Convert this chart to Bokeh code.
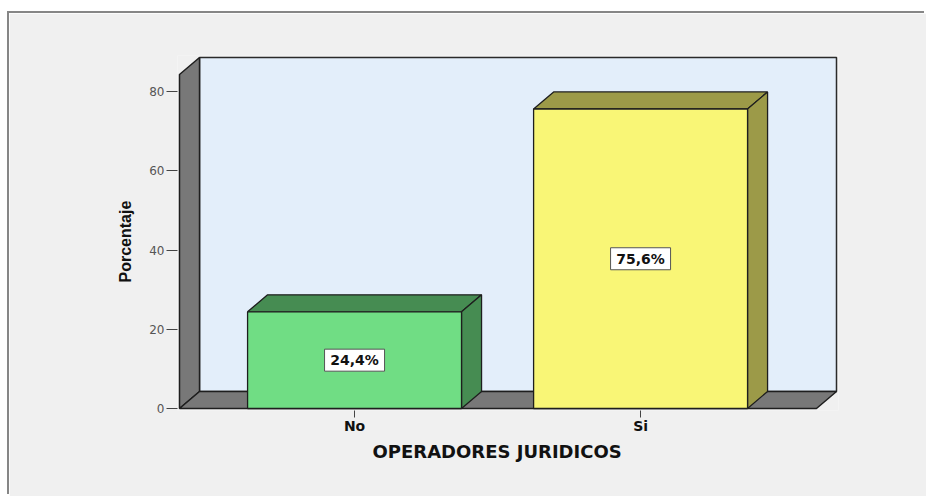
import math
from bokeh.plotting import figure
from bokeh.models import Range1d, FixedTicker, Title, ColumnDataSource
from bokeh.core.properties import value
from bokeh.embed import file_html
from bokeh.resources import INLINE

# ---- data ----
categories = ["No", "Si"]
percentages = [24.4, 75.6]
value_labels = ["24,4%", "75,6%"]
y_ticks = [0, 20, 40, 60, 80]
front_colors = ["#70dd84", "#f9f676"]
side_colors = ["#468c52", "#9c9a48"]
x_title = "OPERADORES JURIDICOS"
y_title = "Porcentaje"

# ---- geometry (style constants, data units) ----
xpos = list(range(len(categories)))
HW = 0.374        # half bar width
DX = 0.07         # depth offset x
DY = 4.3          # depth offset y
X_LEFT = -0.612   # front plane left
X_RIGHT = 1.615   # front plane right
Y_TOP = 84.3      # front plane top
PADX = 0.007
PADY = 0.505

EDGE = "#1e1e1e"
WALL = "#787878"

p = figure(width=917, height=483,
           x_range=Range1d(X_LEFT - PADX, X_RIGHT + DX + PADX),
           y_range=Range1d(-PADY, Y_TOP + DY + PADY),
           output_backend="svg", toolbar_location=None,
           min_border_left=168, min_border_top=42,
           min_border_right=88, min_border_bottom=86,
           background_fill_color="#f0f0f0", border_fill_color="#f0f0f0",
           outline_line_color=None,
           styles={"margin-left": "9px", "margin-top": "13px",
                   "box-shadow": "-2px -2px 0px 0px #868686"})
p.grid.visible = False

# back wall
p.quad(left=[X_LEFT + DX], right=[X_RIGHT + DX], bottom=[DY], top=[Y_TOP + DY],
       fill_color="#e3eefa", line_color="#2a2a2a", line_width=1.5)

# left side wall and floor
walls = ColumnDataSource(dict(
    xs=[[X_LEFT, X_LEFT, X_LEFT + DX, X_LEFT + DX],
        [X_LEFT, X_RIGHT, X_RIGHT + DX, X_LEFT + DX]],
    ys=[[0, Y_TOP, Y_TOP + DY, DY],
        [0, 0, DY, DY]],
))
p.patches("xs", "ys", source=walls, fill_color=WALL, line_color=EDGE, line_width=1.5)

# bars
tops_x, tops_y, sides_x, sides_y = [], [], [], []
for c, v in zip(xpos, percentages):
    tops_x.append([c - HW, c + HW, c + HW + DX, c - HW + DX])
    tops_y.append([v, v, v + DY, v + DY])
    sides_x.append([c + HW, c + HW + DX, c + HW + DX, c + HW])
    sides_y.append([0, DY, v + DY, v])

p.patches(xs=tops_x, ys=tops_y, fill_color=side_colors, line_color=EDGE, line_width=1.3)
p.patches(xs=sides_x, ys=sides_y, fill_color=side_colors, line_color=EDGE, line_width=1.3)
p.quad(left=[c - HW for c in xpos], right=[c + HW for c in xpos],
       bottom=[0] * len(xpos), top=percentages,
       fill_color=front_colors, line_color=EDGE, line_width=1.3)

# value labels
mid = [v / 2 for v in percentages]
p.rect(x=xpos, y=mid, width=60, height=22, width_units="screen", height_units="screen",
       fill_color="white", line_color="#555555", line_width=1)
p.text(x=xpos, y=mid, text=value_labels, text_align="center", text_baseline="middle",
       text_font=value("DejaVu Sans"), text_font_style="bold",
       text_font_size=value("14px"), text_color="#111111")

# axes
p.yaxis.ticker = FixedTicker(ticks=y_ticks)
p.yaxis.axis_line_color = None
p.yaxis.major_tick_out = 11
p.yaxis.major_tick_in = 0
p.yaxis.minor_tick_line_color = None
p.yaxis.major_tick_line_color = "#444444"
p.yaxis.major_label_text_font = "DejaVu Sans"
p.yaxis.major_label_text_font_size = "12px"
p.yaxis.major_label_text_color = "#555555"
p.yaxis.major_label_standoff = 2

p.xaxis.ticker = FixedTicker(ticks=xpos)
p.xaxis.major_label_overrides = {i: c for i, c in zip(xpos, categories)}
p.xaxis.axis_line_color = None
p.xaxis.major_tick_out = 7
p.xaxis.major_tick_in = 0
p.xaxis.minor_tick_line_color = None
p.xaxis.major_tick_line_color = "#444444"
p.xaxis.major_label_text_font = "DejaVu Sans"
p.xaxis.major_label_text_font_style = "bold"
p.xaxis.major_label_text_font_size = "14px"
p.xaxis.major_label_text_color = "#111111"
p.xaxis.major_label_standoff = 0

# axis titles, centred on the front plane as in the reference
p.add_layout(Title(text=x_title, align="left", offset=195,
                   text_font="DejaVu Sans", text_font_style="bold",
                   text_font_size="18px", text_color="#111111", standoff=4), "below")
p.add_layout(Title(text=y_title, align="left", offset=128,
                   text_font="Liberation Sans", text_font_style="bold",
                   text_font_size="16px", text_color="#111111", standoff=26), "left")

open("out.html", "w").write(file_html(p, INLINE))
